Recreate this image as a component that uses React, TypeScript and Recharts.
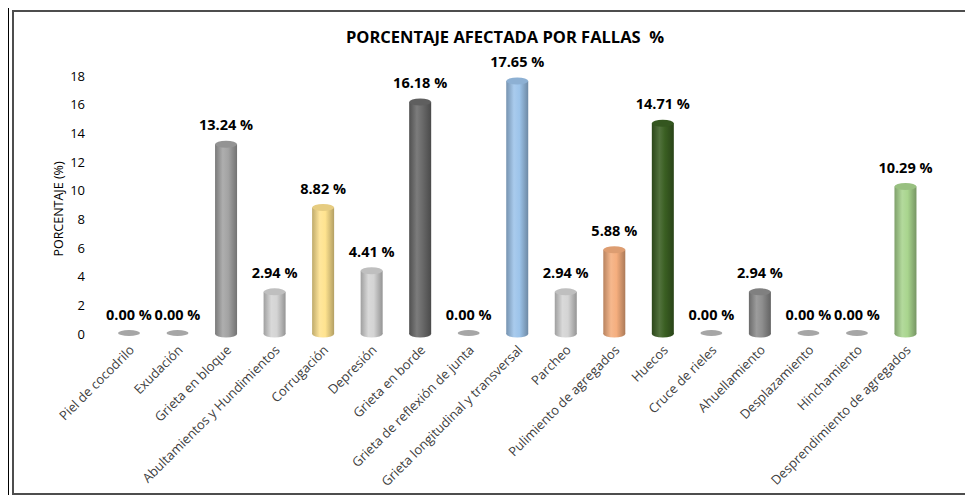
import React from "react";
import { Bar, BarChart, LabelList, XAxis, YAxis, Label } from "recharts";

const categories = [
  "Piel de cocodrilo",
  "Exudación",
  "Grieta en bloque",
  "Abultamientos y Hundimientos",
  "Corrugación",
  "Depresión",
  "Grieta en borde",
  "Grieta de reflexión de junta",
  "Grieta longitudinal y transversal",
  "Parcheo",
  "Pulimiento de agregados",
  "Huecos",
  "Cruce de rieles",
  "Ahuellamiento",
  "Desplazamiento",
  "Hinchamiento",
  "Desprendimiento de agregados",
];

const percentages = [
  0.0, 0.0, 13.24, 2.94, 8.82, 4.41, 16.18, 0.0, 17.65, 2.94, 5.88, 14.71, 0.0,
  2.94, 0.0, 0.0, 10.29,
];

const yTicks = [0, 2, 4, 6, 8, 10, 12, 14, 16, 18];

const barColors = [
  "#a6a6a6", "#a6a6a6", "#a3a3a3", "#d4d4d4", "#ffe38f", "#d4d4d4",
  "#6a6a6a", "#a6a6a6", "#9dc4ea", "#d4d4d4", "#f5ae7e", "#3a5f22",
  "#a6a6a6", "#8e8e8e", "#a6a6a6", "#a6a6a6", "#a9d58e",
];

const data = categories.map((name, i) => ({ name, value: percentages[i] }));

const FONT = "'Open Sans', Calibri, Carlito, sans-serif";

function shade(hex: string, amt: number) {
  const n = parseInt(hex.slice(1), 16);
  const f = (c: number) =>
    Math.max(0, Math.min(255, Math.round(amt < 0 ? c * (1 + amt) : c + (255 - c) * amt)));
  const r = f((n >> 16) & 255);
  const g = f((n >> 8) & 255);
  const b = f(n & 255);
  return `rgb(${r},${g},${b})`;
}

const Cylinder = (props: any) => {
  const { x, y, width, height, index } = props;
  const color = barColors[index];
  const rx = width / 2;
  const ry = 3.5;
  const cx = x + rx;
  const gid = `cyl-${index}`;
  if (!height || height < 1) {
    return <ellipse cx={cx} cy={y - 1} rx={rx} ry={3} fill={color} />;
  }
  return (
    <g>
      <defs>
        <linearGradient id={gid} x1="0" y1="0" x2="1" y2="0">
          <stop offset="0%" stopColor={shade(color, -0.25)} />
          <stop offset="35%" stopColor={shade(color, 0.12)} />
          <stop offset="60%" stopColor={color} />
          <stop offset="100%" stopColor={shade(color, -0.3)} />
        </linearGradient>
      </defs>
      <rect x={x} y={y} width={width} height={height} fill={`url(#${gid})`} />
      <ellipse cx={cx} cy={y + height} rx={rx} ry={ry} fill={`url(#${gid})`} />
      <ellipse cx={cx} cy={y} rx={rx} ry={ry} fill={shade(color, -0.1)} />
    </g>
  );
};

const XTick = (props: any) => {
  const { x, y, payload } = props;
  return (
    <g transform={`translate(${x + 3},${y + 6})`}>
      <text
        textAnchor="end"
        transform="rotate(-45)"
        fontSize={13}
        fill="#404040"
        fontFamily={FONT}
        dy={4}
      >
        {payload.value}
      </text>
    </g>
  );
};

const YLabel = (props: any) => {
  const vb = props.viewBox;
  const x = vb.x + 13;
  const y = vb.y + vb.height / 2 + 4;
  return (
    <text
      x={x}
      y={y}
      transform={`rotate(-90, ${x}, ${y})`}
      textAnchor="middle"
      dominantBaseline="central"
      fontSize={12.5}
      fill="#000"
      fontFamily={FONT}
    >
      PORCENTAJE (%)
    </text>
  );
};

const ValueLabel = (props: any) => {
  const { x, y, width, value } = props;
  return (
    <text
      x={x + width / 2}
      y={y - 14}
      textAnchor="middle"
      fontSize={14.5}
      fontWeight={700}
      fill="#000"
      fontFamily={FONT}
    >
      {`${Number(value).toFixed(2)} %`}
    </text>
  );
};

export default function App() {
  return (
    <div style={{ borderLeft: "1px solid #000", paddingLeft: 3, paddingTop: 2, width: 961 }}>
      <div
        style={{
          position: "relative",
          width: 955,
          height: 481,
          border: "2px solid #4d4d4d",
          background: "#fff",
        }}
      >
        <div
          style={{
            position: "absolute",
            left: 0,
            top: 13,
            width: 982,
            textAlign: "center",
            fontFamily: FONT,
            fontWeight: 700,
            fontSize: 16.5,
            color: "#000",
            whiteSpace: "pre",
          }}
        >
          {"PORCENTAJE AFECTADA POR FALLAS  %"}
        </div>
        <BarChart
          width={955}
          height={481}
          data={data}
          barSize={22}
          margin={{ top: 64, right: 39, bottom: 9, left: 31 }}
        >
          <XAxis
            dataKey="name"
            interval={0}
            height={150}
            axisLine={false}
            tickLine={false}
            tick={<XTick />}
          />
          <YAxis
            width={60}
            domain={[0, 18]}
            ticks={yTicks}
            axisLine={false}
            tickLine={false}
            tickSize={0}
            tickMargin={20}
            tick={{ fontSize: 13, fill: "#000", fontFamily: FONT }}
          >
            <Label content={<YLabel />} />
          </YAxis>
          <Bar dataKey="value" shape={<Cylinder />} isAnimationActive={false}>
            <LabelList dataKey="value" content={<ValueLabel />} />
          </Bar>
        </BarChart>
      </div>
    </div>
  );
}
